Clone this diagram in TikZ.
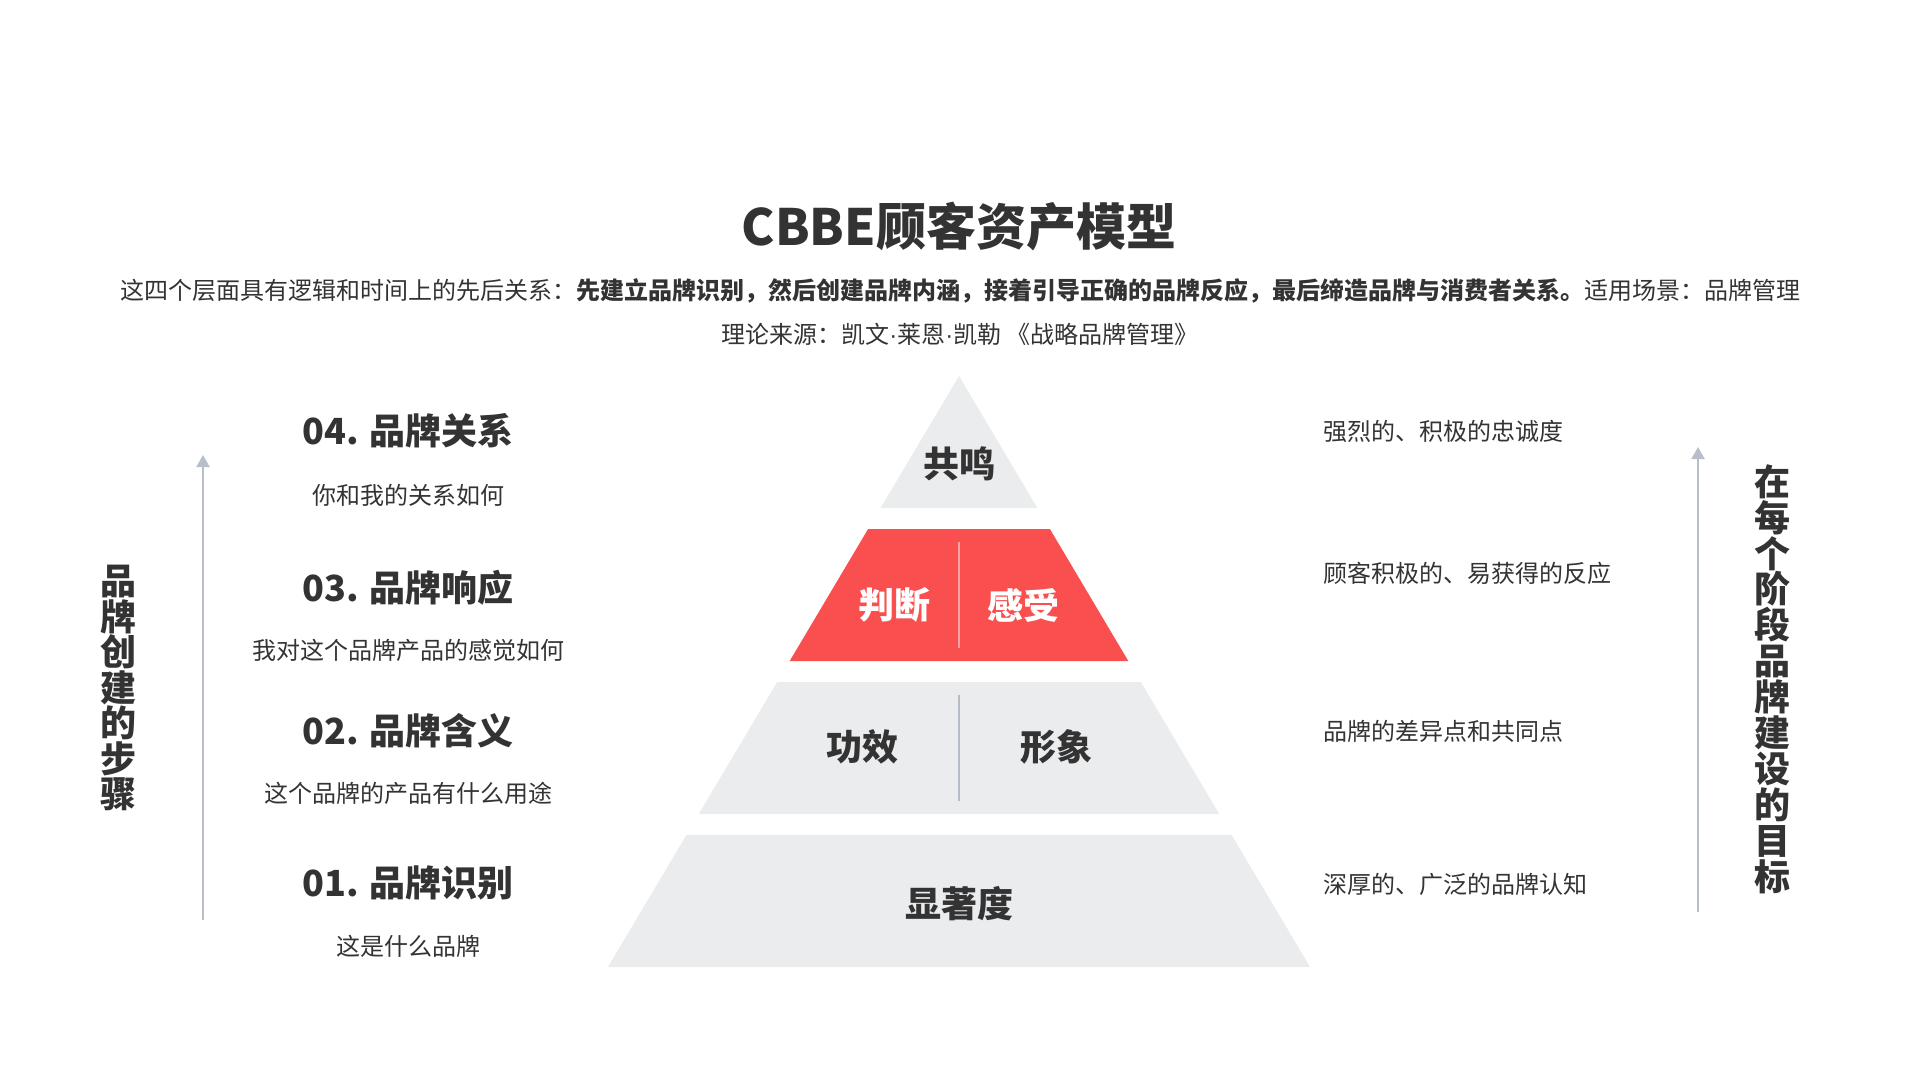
\documentclass[tikz,border=0pt]{standalone}
\usepackage{fontspec}
\setmainfont{Noto Sans CJK SC}
\newfontfamily\narrowdotfont{Liberation Sans}
\usetikzlibrary{arrows.meta}
\definecolor{txt}{HTML}{333333}
\definecolor{pgray}{HTML}{EBECEE}
\definecolor{pred}{HTML}{F94F4F}
\definecolor{divred}{HTML}{F9A3A3}
\definecolor{divgray}{HTML}{B4BCC8}
\definecolor{arr}{HTML}{B8BFCA}
\newcommand{\mdot}{{\narrowdotfont ·}}
\tikzset{
  titletext/.style={font=\fontsize{25}{30}\selectfont\bfseries, text=txt, inner sep=0pt},
  lvltext/.style={font=\fontsize{18}{22}\selectfont\bfseries, text=txt, inner sep=0pt},
  subtext/.style={font=\fontsize{12}{15}\selectfont, text=txt, inner sep=0pt},
  redtext/.style={font=\fontsize{18}{22}\selectfont\bfseries, text=white, inner sep=0pt},
  verttext/.style={font=\fontsize{18}{17.75}\selectfont\bfseries, text=txt, align=center, inner sep=0pt},
  verttextb/.style={font=\fontsize{18}{17.95}\selectfont\bfseries, text=txt, align=center, inner sep=0pt},
  sidearrow/.style={draw=arr, line width=1pt, -{Triangle[width=6.5pt,length=6pt]}},
  divline/.style={line width=1pt},
}
\begin{document}
\begin{tikzpicture}[x=0.5pt,y=-0.5pt]
\useasboundingbox (0,0) rectangle (1920,1080);
% title
\node[titletext] (title) at (959,227) {CBBE顾客资产模型};
\node[subtext] (subtitle) at (960,291) {这四个层面具有逻辑和时间上的先后关系：\textbf{先建立品牌识别，然后创建品牌内涵，接着引导正确的品牌反应，最后缔造品牌与消费者关系。}适用场景：品牌管理};
\node[subtext] (source) at (960,334) {理论来源：凯文\mdot 莱恩\mdot 凯勒 《战略品牌管理》};
% pyramid
\fill[pgray] (959,376) -- (1037.4,508) -- (880.6,508) -- cycle;
\fill[pred] (868.1,529) -- (1049.9,529) -- (1128.3,661) -- (789.7,661) -- cycle;
\fill[pgray] (777.2,682) -- (1140.8,682) -- (1219.2,814) -- (698.8,814) -- cycle;
\fill[pgray] (686.4,835) -- (1231.6,835) -- (1310.1,967) -- (607.9,967) -- cycle;
\draw[divline, divred] (959,542) -- (959,648);
\draw[divline, divgray] (959,695) -- (959,801);
\node[lvltext] (l4) at (959,464) {共鸣};
\node[redtext] (l3a) at (894,605) {判断};
\node[redtext] (l3b) at (1023,605) {感受};
\node[lvltext] (l2a) at (862,747) {功效};
\node[lvltext] (l2b) at (1056,747) {形象};
\node[lvltext] (l1) at (959,904) {显著度};
% left labels
\node[lvltext] (s4) at (408,431) {04. 品牌关系};
\node[subtext] (d4) at (408,495) {你和我的关系如何};
\node[lvltext] (s3) at (408,588) {03. 品牌响应};
\node[subtext] (d3) at (408,650) {我对这个品牌产品的感觉如何};
\node[lvltext] (s2) at (408,731) {02. 品牌含义};
\node[subtext] (d2) at (408,793) {这个品牌的产品有什么用途};
\node[lvltext] (s1) at (408,883) {01. 品牌识别};
\node[subtext] (d1) at (408,946) {这是什么品牌};
% right labels
\node[subtext, anchor=west] (g4) at (1323,431) {强烈的、积极的忠诚度};
\node[subtext, anchor=west] (g3) at (1323,573) {顾客积极的、易获得的反应};
\node[subtext, anchor=west] (g2) at (1323,731) {品牌的差异点和共同点};
\node[subtext, anchor=west] (g1) at (1323,884) {深厚的、广泛的品牌认知};
% arrows
\coordinate (la0) at (203,920);
\coordinate (la1) at (203,455);
\coordinate (ra0) at (1698,912);
\coordinate (ra1) at (1698,447);
\draw[sidearrow] (la0) -- (la1);
\draw[sidearrow] (ra0) -- (ra1);
% vertical texts
\node[verttext] (vleft) at (118,688) {品\\牌\\创\\建\\的\\步\\骤};
\node[verttextb] (vright) at (1772,679) {在\\每\\个\\阶\\段\\品\\牌\\建\\设\\的\\目\\标};
\end{tikzpicture}
\end{document}
